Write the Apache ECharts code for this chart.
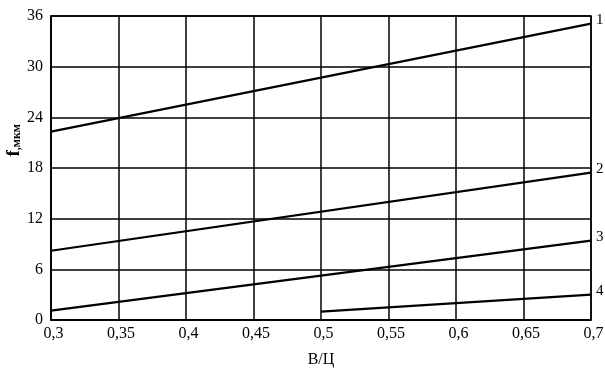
<!DOCTYPE html>
<html><head><meta charset="utf-8">
<script src="https://cdn.jsdelivr.net/npm/echarts@6/dist/echarts.min.js"></script>
<style>html,body{margin:0;padding:0;background:#fff}#c{width:605px;height:380px}</style>
</head><body><div id="c"></div>
<script>
var seriesNames = ['1', '2', '3', '4'];
var line1 = [[0.3, 22.3], [0.7, 35.1]];
var line2 = [[0.3, 8.2], [0.7, 17.45]];
var line3 = [[0.3, 1.1], [0.7, 9.4]];
var line4 = [[0.5, 1.0], [0.7, 3.0]];
var xTicks = [0.3, 0.35, 0.4, 0.45, 0.5, 0.55, 0.6, 0.65, 0.7];
var yTicks = [0, 6, 12, 18, 24, 30, 36];

var font = '"Liberation Serif", "DejaVu Serif", serif';
var chart = echarts.init(document.getElementById('c'));
var allData = [line1, line2, line3, line4];
chart.setOption({
  animation: false,
  grid: {left: 51, right: 14, top: 16, bottom: 60, show: true, borderColor: '#000', borderWidth: 1.5,
         containLabel: false, outerBoundsMode: 'none'},
  graphic: [{
    type: 'text', left: 5, top: 124, rotation: Math.PI / 2,
    style: {text: '{f|f}{s|,мкм}', fill: '#000', rich: {
      f: {fontFamily: font, fontSize: 18, fontWeight: 'bold', fill: '#000'},
      s: {fontFamily: font, fontSize: 12, fontWeight: 'bold', fill: '#000', verticalAlign: 'bottom'}
    }}
  }],
  xAxis: {
    type: 'value', min: 0.3, max: 0.7, interval: 0.05,
    name: 'В/Ц', nameLocation: 'middle', nameGap: 32,
    nameTextStyle: {fontFamily: font, fontSize: 16, color: '#000'},
    axisLine: {lineStyle: {color: '#000', width: 1.5}},
    axisTick: {show: false},
    splitLine: {show: true, lineStyle: {color: '#000', width: 1.5}},
    axisLabel: {fontFamily: font, fontSize: 16, color: '#000', margin: 6, padding: [0, 0, 0, 5],
      formatter: function (v) { return String(Math.round(v * 100) / 100).replace('.', ','); }}
  },
  yAxis: {
    type: 'value', min: 0, max: 36, interval: 6,
    axisLine: {lineStyle: {color: '#000', width: 1.5}},
    axisTick: {show: false},
    splitLine: {show: true, lineStyle: {color: '#000', width: 1.5}},
    axisLabel: {fontFamily: font, fontSize: 16, color: '#000', margin: 8}
  },
  series: allData.map(function (d, i) {
    return {
      type: 'line', name: seriesNames[i], data: d, symbol: 'none',
      lineStyle: {color: '#000', width: 2.2},
      endLabel: {show: true, formatter: seriesNames[i], fontFamily: font, fontSize: 15, color: '#000', distance: 5, offset: [0, -4]}
    };
  })
});
</script></body></html>
